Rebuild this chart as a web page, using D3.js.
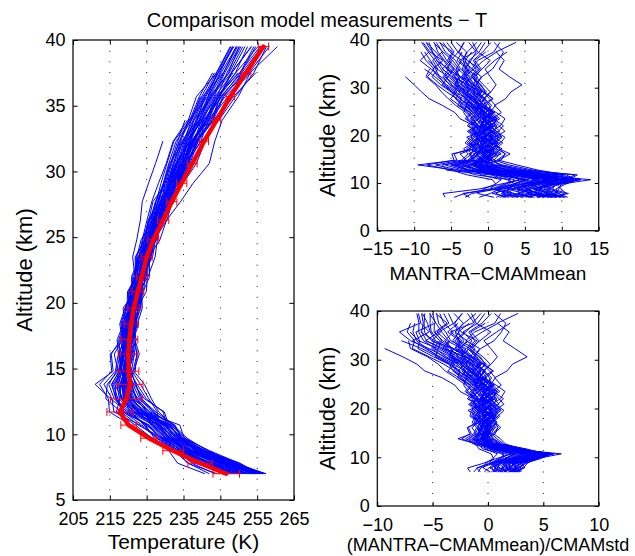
<!DOCTYPE html>
<html>
<head>
<meta charset="utf-8">
<script src="https://cdn.jsdelivr.net/npm/d3@7"></script>
<style>
  body { margin: 0; background: #fff; }
  text { font-family: "Liberation Sans", Arial, Helvetica, sans-serif; fill: #000; }
</style>
</head>
<body>
<script>
var altitudes = [7.0, 7.8, 8.75, 9.7, 10.7, 11.7, 12.7, 13.8, 14.8, 16.1, 17.2, 18.4, 19.6, 20.85, 22.0, 23.5, 24.8, 26.3, 27.7, 29.1, 30.6, 32.3, 33.9, 35.7, 37.5, 39.5];
var cmamMean = [246.6, 239.5, 232.2, 225.6, 220.1, 217.7, 219.5, 220.5, 220.1, 220.0, 220.3, 220.8, 221.5, 222.6, 223.7, 225.0, 226.8, 229.5, 231.8, 234.5, 237.4, 240.6, 244.0, 247.7, 252.0, 256.7];
var cmamStd = [3.6, 3.3, 2.8, 2.2, 2.1, 3.5, 4.3, 3.5, 2.8, 2.6, 2.3, 1.9, 1.6, 1.6, 1.5, 1.5, 1.5, 1.5, 1.4, 1.4, 1.3, 1.2, 1.1, 1.15, 1.3, 1.4];

// MANTRA - CMAMmean (K) per sonde, one value per level above (null = no data)
var mantraMinusMean = [
  [9.2, 7.5, 6.1, 8.0, 11.5, 4.2, -1.5, -2.8, -1.2, 0.4, -0.8, 0.9, 0.2, -1.1, 0.5, 1.2, -0.6, -1.8, -2.9, -2.2, -3.4, -4.1, -5.2, -6.0, -7.1, -8.3],
  [10.5, 8.8, 7.9, 9.6, 13.9, 6.8, 0.9, -1.4, 0.3, 1.1, -0.2, -1.0, 0.8, 0.1, -1.3, -2.0, -0.9, -2.7, -1.8, -3.1, -4.4, -5.9, -4.8, null, null, null],
  [4.1, 2.6, 3.4, 5.2, 7.8, 9.5, 3.2, -0.8, -2.1, -1.4, 0.6, 1.7, 2.3, 1.1, 0.4, -0.7, 0.9, -1.5, -2.4, -1.1, -2.8, -3.5, -2.6, -3.9, -1.8, -0.9],
  [-5.8, -6.1, -1.2, 1.5, 4.6, 2.1, -4.3, -9.5, -4.2, -4.6, -2.4, -1.6, -2.9, -0.8, -1.9, -3.8, -4.5, -6.2, -8.0, -9.0, -10.0, -11.2, null, null, null, null],
  [7.6, 5.9, 4.4, 6.3, 9.1, 7.4, 2.5, 0.6, -0.9, 0.8, 1.9, 0.3, -0.5, 1.4, 2.1, 0.7, -0.4, -1.2, -0.3, -1.6, -2.5, -3.8, -4.5, -5.6, -6.3, null],
  [3.2, 4.8, 2.7, 3.9, 5.6, 1.3, -2.6, -5.1, -2.4, -1.8, -0.6, -1.9, -0.7, -2.2, -1.1, 0.3, -1.6, -0.8, -2.1, -3.6, -4.9, -5.7, -6.4, -7.2, -8.1, -9.0],
  [8.4, 10.9, 8.6, 7.2, 10.3, 11.8, 5.4, 1.9, 0.2, -0.6, 0.9, -0.4, 1.6, 0.5, -0.8, 1.3, 0.2, -0.9, 0.6, -0.5, -1.4, -2.2, -1.3, -2.0, -0.7, 0.4],
  [-2.5, -3.4, 0.8, 2.4, 3.1, -1.6, -3.9, -7.1, -3.6, -2.7, -3.3, -2.1, -1.4, -2.6, -1.8, -3.1, -2.3, -4.1, -3.5, -4.8, -6.2, -5.4, -6.9, -8.1, null, null],
  [6.3, 4.1, 5.8, 8.9, 12.6, 8.3, 1.7, -0.3, 1.2, 2.4, 1.1, 2.0, 0.9, 2.3, 1.5, 0.6, 1.8, 0.9, 2.4, 3.1, 4.6, 2.9, 1.5, 2.2, 1.1, 3.8],
  [2.4, 1.1, 1.9, 4.6, 6.4, 3.7, -1.1, -3.4, -1.7, -0.5, -1.2, 0.4, -0.9, 0.6, -0.3, -1.4, -0.2, -2.3, -1.6, -0.8, -2.1, -3.2, -1.9, -0.6, 1.2, null],
  [9.8, 8.2, 6.9, 9.1, 10.6, 5.9, 0.4, -2.3, -0.6, -1.5, 0.7, -0.2, -1.3, -0.4, 0.9, -0.6, -1.9, -1.1, -2.6, -1.9, -3.1, -2.4, -3.7, -4.4, -5.8, -6.5],
  [5.1, 6.7, 5.3, 6.8, 8.2, 10.2, 6.1, 2.8, 0.9, -0.3, -1.1, 0.5, -0.2, -1.4, -0.6, 0.8, -0.5, -1.3, -0.4, -2.0, -2.9, -4.6, -3.8, null, null, null],
  [-3.1, -2.2, 1.3, 3.8, 2.6, 0.4, -5.6, -6.2, -2.9, -3.8, -1.9, -3.1, -2.4, -1.6, -2.8, -1.9, -2.8, -3.9, -5.1, -4.2, -5.6, -6.8, -7.5, -6.1, -7.9, -8.8],
  [10.8, 9.5, 9.2, 10.4, 12.1, 8.8, 3.6, 0.8, -0.4, 0.9, -0.8, 1.2, 0.4, -0.7, 1.1, 0.3, -1.2, -0.4, -1.7, -2.8, -1.9, -3.6, -2.8, -4.2, -3.5, null],
  [1.6, 3.2, 0.4, 2.1, 4.2, 2.9, -0.9, -4.3, -1.5, 0.6, -0.9, -0.6, 1.1, -0.4, 0.2, -0.8, 0.6, -0.9, -2.2, -3.0, -4.3, -3.1, null, null, null, null],
  [7.1, 5.4, 7.3, 5.8, 7.5, 6.2, 1.8, -1.9, 0.6, -0.9, 0.3, 1.4, -0.6, 0.8, -0.9, -0.4, 0.8, -0.6, -1.3, -0.2, -1.1, -1.9, -0.8, 0.3, -1.4, -2.1],
  [8.9, 7.1, 3.9, 4.7, 6.9, 2.4, -2.9, -3.9, -2.6, -1.3, -2.1, -1.2, -2.3, -1.6, -2.6, -1.2, -2.1, -3.1, -4.2, -5.6, -6.9, -8.2, -7.3, -8.4, -9.1, null],
  [4.8, 2.1, 2.2, 4.1, 8.8, 5.6, 0.2, -1.1, 1.8, 2.3, 1.5, 0.9, 1.9, 1.2, 0.1, 1.6, 0.6, -0.4, 0.7, -0.6, -1.7, -0.9, -2.2, -1.4, 0.8, 1.6],
  [6.8, 8.4, 6.2, 8.2, 9.7, 4.9, 0.7, -0.6, -1.9, -2.4, -1.4, -2.6, -1.8, -2.8, -1.5, -2.4, -1.1, -2.2, -3.1, -3.9, -5.2, -6.1, -5.3, -7.0, null, null],
  [0.8, -1.4, -0.6, 0.9, 1.8, -0.9, -1.8, -2.6, -0.8, -1.6, -0.3, -1.1, 0.4, -0.9, -0.4, -1.8, -0.9, -2.6, -3.8, -2.9, -4.1, -5.4, -4.6, -5.5, -4.8, -6.6],
  [9.6, 10.3, 8.1, 8.6, 11.2, 9.1, 4.3, 1.4, 0.8, 1.6, 0.4, -0.6, 0.7, -0.1, -1.0, -0.2, -0.8, -1.6, -0.9, -1.8, -2.6, -3.3, -2.4, -3.1, -2.2, null],
  [3.7, 5.6, 4.6, 5.5, 7.1, 4.5, -0.4, -2.1, -0.2, -1.1, -1.8, -0.8, -1.6, -0.5, -1.2, -2.3, -1.6, -2.9, -2.3, -3.4, -2.7, -4.8, -6.2, -5.1, -4.0, -3.2],
  [7.9, 6.3, 6.8, 7.6, 10.0, 7.8, 2.1, -0.2, 0.3, -0.2, 1.2, 0.6, 1.3, 0.3, 0.7, -0.3, 0.4, -0.7, -1.1, -0.4, -0.9, -2.3, -1.6, -2.6, -1.2, -0.4],
  [5.9, 3.6, 1.4, 3.2, 5.1, 1.9, -3.3, -5.8, -3.3, -2.2, -2.9, -1.8, -1.1, -1.9, -2.2, -1.4, -2.5, -3.8, -2.8, -4.5, -5.9, -7.2, -8.6, null, null, null],
  [10.1, 9.7, 7.4, 6.9, 8.5, 3.5, -0.6, -1.7, -1.0, 0.2, -0.5, -1.5, -0.2, -1.2, -0.7, 0.5, -0.3, -1.4, -2.0, -1.3, -2.4, -3.9, -4.3, -3.6, -5.2, -6.1],
  [2.9, 0.6, 3.1, 6.1, 9.4, 6.5, 1.1, -0.9, -0.3, 1.8, 0.9, 1.6, 0.1, 1.0, 0.3, -0.9, 0.3, 1.0, 0.2, -0.7, -1.6, -0.8, 0.6, 1.4, 2.1, 0.8],
  [8.3, 6.8, 5.1, 6.6, 9.9, 4.8, -0.2, -1.8, -1.3, -0.7, 0.2, -0.9, -0.4, 0.4, -0.5, -1.1, -0.4, -1.9, -1.2, -2.4, -3.7, -2.8, -4.1, -5.3, -4.6, -5.6],
  [6.6, 8.9, 7.6, 8.4, 10.9, 12.1, 4.9, 1.1, -0.5, 0.5, -0.4, 0.1, -0.7, 0.6, -0.2, 0.4, -0.6, -0.2, -0.8, -1.4, -2.0, -1.4, -2.9, -3.4, -2.8, -1.5],
  [5.4, 7.3, 4.9, 5.9, 7.9, 3.1, -1.3, -3.1, -1.9, -2.6, -1.5, -2.8, -2.1, -1.2, -1.7, -2.9, -2.0, -3.3, -4.4, -3.8, -5.1, -6.4, -7.7, -9.2, -8.0, null],
  [-4.6, -3.2, 0.2, 1.1, 0.6, -2.8, -4.9, -8.3, -4.6, -4.9, -1.7, -2.4, -1.0, -2.1, -1.6, -0.9, -1.9, -3.0, -2.5, -3.3, -4.6, -3.7, -5.6, -6.6, -7.5, -8.0],
  [7.4, 9.1, 9.6, 9.9, 11.9, 10.6, 6.8, 3.9, 1.4, 3.0, 1.5, 1.0, 1.8, 0.8, 1.2, 0.3, -0.3, 0.5, -0.5, 0.3, -0.6, -1.7, -0.9, -1.8, -0.3, null],
  [8.7, 5.1, 4.0, 5.6, 8.1, 5.4, 0.6, -1.4, -0.1, -0.8, -1.6, -0.4, -1.0, -1.8, -0.9, -0.5, -1.4, -2.1, -3.1, -2.6, -3.5, -4.9, -3.9, -4.8, -6.1, -7.4],
  [4.4, 6.1, 3.3, 4.4, 6.0, 7.2, 2.8, 0.1, -0.7, -0.2, -1.0, -1.4, -0.3, -0.6, 0.6, -0.1, -0.7, -1.3, -1.9, -1.0, -1.8, -2.6, -3.3, -2.4, null, null],
  [9.9, 7.8, 8.4, 9.3, 10.4, 5.2, -0.7, -2.4, -1.4, -0.1, -0.5, 0.2, -0.4, -0.3, 0.4, 0.1, -0.8, -1.5, -2.3, -1.7, -2.2, -3.0, -2.1, -3.4, -2.9, -4.3],
  [3.5, 1.8, 2.9, 5.8, 8.4, 4.1, -0.8, -2.2, -0.4, 0.7, -0.3, 0.8, -0.6, 0.2, -0.9, -1.6, -2.4, -3.6, -4.4, -4.9, -5.8, -6.6, -7.1, -7.8, -8.6, null],
  [9.4, 6.5, 5.6, 7.3, 9.6, 6.6, 1.4, -0.7, 0.4, -0.6, 0.8, -0.3, 0.6, -0.9, 0.2, -0.6, -1.4, -2.6, -3.3, -2.7, -4.0, -4.4, -5.6, -4.9, null, null],
  [-1.2, 0.3, 1.6, 3.3, 5.3, 0.8, -2.3, -4.6, -2.0, -1.1, -2.6, -1.3, -0.6, -1.8, -0.6, -1.1, -1.7, -2.4, -3.9, -4.6, -3.9, -5.1, -6.1, -6.9, -7.6, -8.4],
  [7.3, 8.6, 7.0, 7.9, 10.2, 8.1, 2.9, 0.3, -0.2, 1.3, 0.1, 1.0, 1.4, 0.4, 1.7, 2.3, 1.1, -0.5, -1.4, -2.1, -3.2, -2.0, -3.1, -2.3, -1.6, -2.6],
  [2.0, 4.2, 4.1, 4.9, 6.6, 5.0, 0.1, -1.6, -1.1, -2.0, -0.7, -1.7, -0.8, -1.5, -0.2, -0.4, -1.0, -2.0, -2.9, -3.6, -4.5, -3.9, -4.8, -5.9, -6.8, -7.3],
  [10.3, 8.0, 6.4, 8.7, 11.0, 7.0, 1.3, -0.4, 0.1, -0.4, -1.3, -0.8, -1.5, -1.0, -0.3, 0.9, 0.1, -1.0, -1.7, -0.9, -1.3, -2.0, -1.1, -2.8, -3.9, -3.3],
  [6.0, 3.3, 2.5, 3.6, 4.8, 2.7, -1.9, -3.6, -2.3, -1.5, -0.9, -2.3, -1.3, -2.4, -1.4, -2.1, -3.0, -4.4, -5.4, -6.3, -7.1, -8.4, -7.9, null, null, null],
  [8.0, 9.4, 8.8, 9.0, 12.4, 9.8, 3.9, 1.6, 0.5, 0.3, 0.6, 1.3, 0.3, 1.6, 0.8, 1.1, 0.4, 0.2, -0.6, 0.4, 1.1, 0.3, -0.4, 0.9, 2.6, null],
  [1.1, 2.4, 1.0, 2.8, 3.6, 1.0, -2.9, -4.9, -2.7, -1.9, -1.0, -0.4, -1.9, -0.3, -1.6, -2.7, -3.3, -2.9, -3.7, -5.0, -6.4, -7.6, -6.8, -7.5, -6.2, -7.0],
  [9.1, 10.6, 9.9, 9.4, 11.6, 6.1, 0.3, -1.1, -0.8, 0.4, -0.1, 0.6, -0.9, -0.6, -1.1, -0.5, 0.2, -1.1, -0.6, -1.2, -1.9, -2.9, -3.5, -3.0, -4.1, -5.0]
];

// tick values
var tempTicks = [205, 215, 225, 235, 245, 255, 265];
var altTicksLeft = [5, 10, 15, 20, 25, 30, 35, 40];
var diffTicks = [-15, -10, -5, 0, 5, 10, 15];
var normTicks = [-10, -5, 0, 5, 10];
var altTicksRight = [0, 10, 20, 30, 40];

var titleText = "Comparison model measurements \u2212 T";

var svg = d3.select("body").append("svg")
  .attr("width", 635)
  .attr("height", 556);

svg.append("text")
  .attr("x", 317)
  .attr("y", 27)
  .attr("text-anchor", "middle")
  .style("font-size", "20px")
  .text(titleText);

var clipId = 0;

function makePanel(xRange, yRange, xDomain, yDomain, xTicks, yTicks, tickLen, xLabel, xLabelY, xLabelSize, yLabelX) {
  var x = d3.scaleLinear().domain(xDomain).range(xRange);
  var y = d3.scaleLinear().domain(yDomain).range(yRange);
  var g = svg.append("g");
  var top = Math.min(yRange[0], yRange[1]), bottom = Math.max(yRange[0], yRange[1]);

  // dotted vertical grid
  g.selectAll("line.grid")
    .data(xTicks.slice(1, -1))
    .enter().append("line")
      .attr("class", "grid")
      .attr("x1", function(d) { return x(d); })
      .attr("x2", function(d) { return x(d); })
      .attr("y1", top)
      .attr("y2", bottom)
      .attr("stroke", "#111")
      .attr("stroke-width", 1)
      .attr("stroke-dasharray", "1,9.7");

  clipId += 1;
  g.append("clipPath").attr("id", "clip" + clipId)
    .append("rect")
      .attr("x", xRange[0]).attr("y", top)
      .attr("width", xRange[1] - xRange[0]).attr("height", bottom - top);
  var plot = g.append("g").attr("clip-path", "url(#clip" + clipId + ")");

  // axes, ticks pointing inward
  g.append("g")
    .attr("transform", "translate(0," + bottom + ")")
    .call(d3.axisBottom(x).tickValues(xTicks).tickSizeInner(-tickLen).tickSizeOuter(0).tickPadding(12));
  g.append("g")
    .attr("transform", "translate(0," + top + ")")
    .call(d3.axisTop(x).tickValues(xTicks).tickFormat("").tickSizeInner(-tickLen).tickSizeOuter(0));
  g.append("g")
    .attr("transform", "translate(" + xRange[0] + ",0)")
    .call(d3.axisLeft(y).tickValues(yTicks).tickSizeInner(-tickLen).tickSizeOuter(0).tickPadding(7.5));
  g.append("g")
    .attr("transform", "translate(" + xRange[1] + ",0)")
    .call(d3.axisRight(y).tickValues(yTicks).tickFormat("").tickSizeInner(-tickLen).tickSizeOuter(0));
  g.selectAll(".domain").remove();
  g.selectAll(".tick line").attr("stroke", "#000").attr("stroke-width", 1);
  g.selectAll(".tick text")
    .style("font-family", "'Liberation Sans', Arial, Helvetica, sans-serif")
    .style("font-size", "18px")
    .attr("fill", "#000");

  g.append("rect")
    .attr("x", xRange[0]).attr("y", top)
    .attr("width", xRange[1] - xRange[0]).attr("height", bottom - top)
    .attr("fill", "none")
    .attr("stroke", "#000")
    .attr("stroke-width", 1.2);

  g.append("text")
    .attr("x", (xRange[0] + xRange[1]) / 2)
    .attr("y", xLabelY)
    .attr("text-anchor", "middle")
    .style("font-size", xLabelSize + "px")
    .text(xLabel);

  g.append("text")
    .attr("transform", "translate(" + yLabelX + "," + ((top + bottom) / 2) + ") rotate(-90)")
    .attr("text-anchor", "middle")
    .style("font-size", "22px")
    .text("Altitude (km)");

  return {x: x, y: y, plot: plot};
}

function profileLine(panel) {
  return d3.line()
    .defined(function(d) { return d[0] != null; })
    .x(function(d) { return panel.x(d[0]); })
    .y(function(d) { return panel.y(d[1]); });
}

// left: temperature profiles
var left = makePanel([73, 294], [500, 40], [205, 265], [5, 40], tempTicks, altTicksLeft, 4.6,
  "Temperature (K)", 549, 21, 32);
var leftLine = profileLine(left);

left.plot.selectAll("path.sonde")
  .data(mantraMinusMean)
  .enter().append("path")
    .attr("class", "sonde")
    .attr("d", function(p) {
      return leftLine(altitudes.map(function(a, i) {
        return [p[i] == null ? null : cmamMean[i] + p[i], a];
      }));
    })
    .attr("fill", "none")
    .attr("stroke", "#0000ff")
    .attr("stroke-width", 1);

left.plot.append("path")
  .datum(altitudes.map(function(a, i) { return [cmamMean[i], a]; }))
  .attr("d", leftLine)
  .attr("fill", "none")
  .attr("stroke", "#ff0000")
  .attr("stroke-width", 4.5)
  .attr("stroke-linejoin", "round")
  .attr("stroke-linecap", "round");

var bars = left.plot.selectAll("g.ebar")
  .data(altitudes)
  .enter().append("g")
    .attr("class", "ebar")
    .attr("stroke", "#ff0000")
    .attr("stroke-width", 1);
bars.append("line")
  .attr("x1", function(a, i) { return left.x(cmamMean[i] - cmamStd[i]); })
  .attr("x2", function(a, i) { return left.x(cmamMean[i] + cmamStd[i]); })
  .attr("y1", function(a) { return left.y(a); })
  .attr("y2", function(a) { return left.y(a); });
bars.append("line")
  .attr("x1", function(a, i) { return left.x(cmamMean[i] - cmamStd[i]); })
  .attr("x2", function(a, i) { return left.x(cmamMean[i] - cmamStd[i]); })
  .attr("y1", function(a) { return left.y(a) - 4; })
  .attr("y2", function(a) { return left.y(a) + 4; });
bars.append("line")
  .attr("x1", function(a, i) { return left.x(cmamMean[i] + cmamStd[i]); })
  .attr("x2", function(a, i) { return left.x(cmamMean[i] + cmamStd[i]); })
  .attr("y1", function(a) { return left.y(a) - 4; })
  .attr("y2", function(a) { return left.y(a) + 4; });

// top right: difference from model mean
var diffPanel = makePanel([377.3, 598.7], [230.7, 40], [-15, 15], [0, 40], diffTicks, altTicksRight, 4,
  "MANTRA\u2212CMAMmean", 280, 19, 335);
var diffLine = profileLine(diffPanel);
diffPanel.plot.selectAll("path.sonde")
  .data(mantraMinusMean)
  .enter().append("path")
    .attr("d", function(p) {
      return diffLine(altitudes.map(function(a, i) { return [p[i], a]; }));
    })
    .attr("fill", "none")
    .attr("stroke", "#0000ff")
    .attr("stroke-width", 1);

// bottom right: difference scaled by model std
var normPanel = makePanel([377.3, 598.7], [506, 311], [-10, 10], [0, 40], normTicks, altTicksRight, 4,
  "(MANTRA\u2212CMAMmean)/CMAMstd", 551, 18, 335);
var normLine = profileLine(normPanel);
normPanel.plot.selectAll("path.sonde")
  .data(mantraMinusMean)
  .enter().append("path")
    .attr("d", function(p) {
      return normLine(altitudes.map(function(a, i) {
        return [p[i] == null ? null : p[i] / cmamStd[i], a];
      }));
    })
    .attr("fill", "none")
    .attr("stroke", "#0000ff")
    .attr("stroke-width", 1);
</script>
</body>
</html>
